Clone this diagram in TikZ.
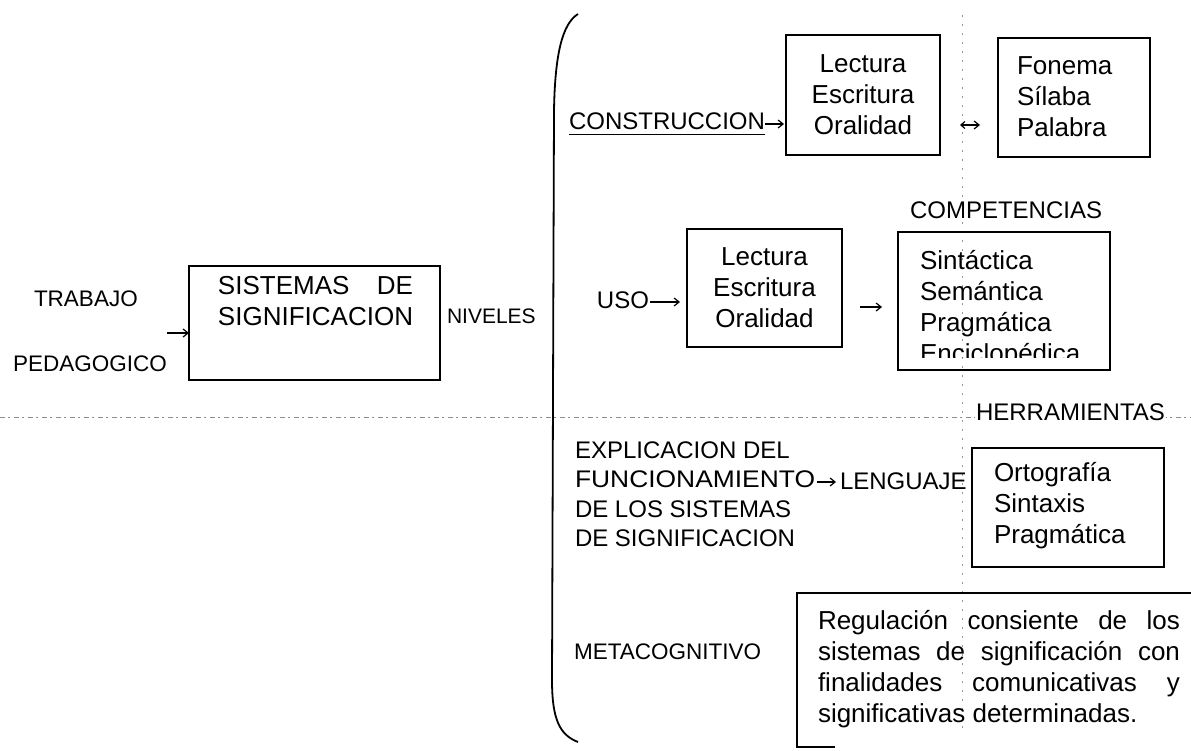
\documentclass[tikz,border=0pt]{standalone}
\usepackage{fontspec}
\setmainfont{Liberation Sans}
\usetikzlibrary{arrows.meta}
\tikzset{
  every node/.style={inner sep=0pt, outer sep=0pt},
  frame/.style={draw, line width=1.8pt, anchor=north west},
  big/.style={font=\fontsize{26}{31}\selectfont},
  lab/.style={font=\fontsize{24}{29.5}\selectfont},
  smalllab/.style={font=\fontsize{22.5}{27}\selectfont},
  arr/.style={line width=1.2pt, -{Straight Barb[length=5pt,width=8pt]}},
  arrboth/.style={line width=1.2pt, {Straight Barb[length=4pt,width=7pt]}-{Straight Barb[length=5pt,width=8pt]}},
  foldh/.style={black!45, line width=0.8pt, dash pattern=on 5pt off 3pt on 2pt off 4pt},
  foldv/.style={black!40, line width=0.7pt, dash pattern=on 2pt off 7pt},
}
\begin{document}
\begin{tikzpicture}[x=1pt,y=-1pt]
\fill[white] (0,0) rectangle (1191,750);
\useasboundingbox (0,0) rectangle (1191,750);

% scan fold lines
\draw[foldh] (0,417) -- (1191,417);
\draw[foldv] (962,15) -- (962,730);

% left part
\node[smalllab, anchor=west] (trab) at (34,299) {TRABAJO};
\node[smalllab, anchor=west] (ped) at (13,364) {PEDAGOGICO};
\node[frame, minimum width=251pt, minimum height=114pt] (sisbox) at (189,266) {};
\node[big, align=left] (sistext) at (315.5,301) {\setbox0\hbox{SIGNIFICACION}\makebox[\wd0][s]{SISTEMAS DE}\\SIGNIFICACION};
\coordinate (pin) at (167,333);
\draw[arr] (pin) -- (pin -| sisbox.west);
\node[font=\fontsize{21}{25}\selectfont, anchor=west] (niv) at (447,316) {NIVELES};

% big parenthesis
\draw[line width=1.8pt] (578,14) .. controls (562,24) and (555,55) .. (554,110) -- (552,680) .. controls (552,720) and (560,735) .. (578,742);

% CONSTRUCCION row
\node[lab, anchor=west] (constr) at (569,121) {CONSTRUCCION};
\draw[line width=1.2pt] ([yshift=-5pt]constr.south west) -- ([yshift=-5pt]constr.south east);
\node[frame, minimum width=154pt, minimum height=120pt] (b1) at (786,35) {};
\node[big, align=center] (b1t) at (b1.center) {Lectura\\Escritura\\Oralidad};
\coordinate (c1) at ([yshift=-3pt]constr.east);
\draw[arr, shorten >=2pt] (c1) -- (c1 -| b1.west);
\node[frame, minimum width=152pt, minimum height=119pt] (b2) at (998,38) {};
\node[big, align=left, anchor=west] (b2t) at (1017,97) {Fonema\\Sílaba\\Palabra};
\coordinate (c2) at (b1.east |- 0,125);
\coordinate (c3) at (b2.west |- 0,125);
\draw[arrboth, shorten <=20pt, shorten >=18pt] (c2) -- (c3);

% USO row
\node[lab, anchor=west] (comp) at (910,210) {COMPETENCIAS};
\node[lab, anchor=east] (uso) at (649,300) {USO};
\node[frame, minimum width=155pt, minimum height=118pt] (b3) at (687,229) {};
\node[big, align=center] (b3t) at (b3.center) {Lectura\\Escritura\\Oralidad};
\coordinate (c4) at ([yshift=-2pt]uso.east);
\draw[arr, shorten <=1pt, shorten >=7pt] (c4) -- (c4 -| b3.west);
\node[frame, minimum width=212pt, minimum height=138pt] (b4) at (898,232) {};
\begin{scope}
  \clip (890,225) rectangle (1120,357);
  \node[big, align=left, anchor=west] (b4t) at (920,309) {Sintáctica\\Semántica\\Pragmática\\Enciclopédica};
\end{scope}
\coordinate (c5) at (b3.east |- 0,307);
\coordinate (c6) at (b4.west |- 0,307);
\draw[arr, shorten <=18pt, shorten >=16pt] (c5) -- (c6);

% EXPLICACION row
\node[lab, anchor=west, fill=white, inner xsep=1pt] (herr) at (975,412) {HERRAMIENTAS};
\node[lab, align=left, anchor=west] (expl) at (575,494) {EXPLICACION DEL\\\scalebox{1.1}[1]{FUNCIONAMIENTO}\\DE LOS SISTEMAS\\DE SIGNIFICACION};
\node[lab, anchor=west] (leng) at (840,481) {LENGUAJE};
\coordinate (funcend) at (817,482);
\draw[arr, shorten >=4pt] (funcend) -- (funcend -| leng.west);
\node[frame, minimum width=192pt, minimum height=119pt] (b5) at (972,448) {};
\node[big, align=left, anchor=west] (b5t) at (994,506) {Ortografía\\Sintaxis\\Pragmática};

% METACOGNITIVO row
\node[smalllab, anchor=west] (meta) at (574,652) {METACOGNITIVO};
\node[anchor=north west, minimum width=400pt, minimum height=154pt] (regbox) at (797,593) {};
\draw[line width=1.8pt] (regbox.north east) -- (regbox.north west) -- (regbox.south west) -- ++(38,0);
\node[big, align=left, anchor=west] (regt) at (818,669) {\makebox[362pt][s]{Regulación consiente de los}\\\makebox[362pt][s]{sistemas de significación con}\\\makebox[362pt][s]{finalidades comunicativas y}\\significativas determinadas.};
\end{tikzpicture}
\end{document}
